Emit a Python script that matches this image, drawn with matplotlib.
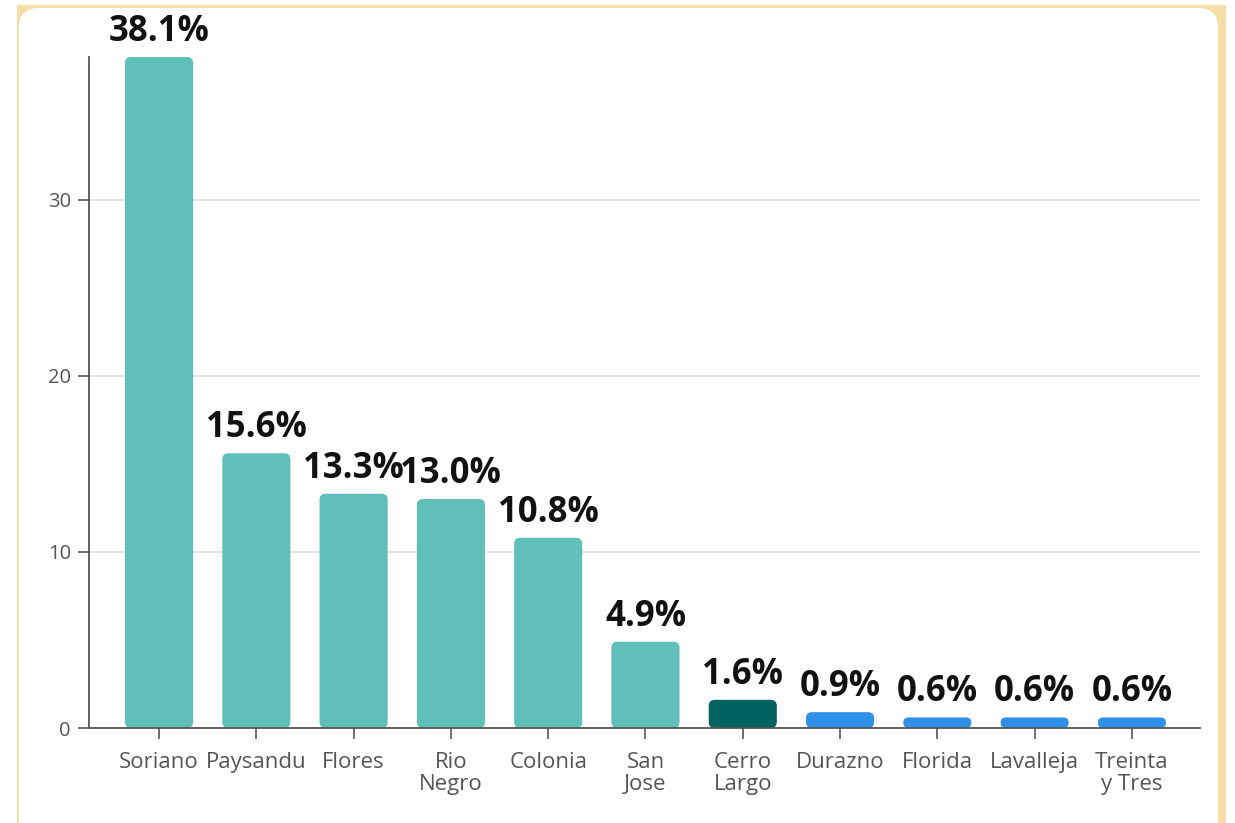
import matplotlib.pyplot as plt
from matplotlib.patches import FancyBboxPatch, Rectangle

departments = ["Soriano", "Paysandu", "Flores", "Rio\nNegro", "Colonia", "San\nJose",
               "Cerro\nLargo", "Durazno", "Florida", "Lavalleja", "Treinta\ny Tres"]
shares = [38.1, 15.6, 13.3, 13.0, 10.8, 4.9, 1.6, 0.9, 0.6, 0.6, 0.6]
bar_colors = ["#5fbfb9"] * 6 + ["#00635f"] + ["#2e90e8"] * 4
yticks = [0, 10, 20, 30]

W, H = 1235, 823


def main():
    plt.rcParams['font.family'] = ['Open Sans', 'DejaVu Sans']
    fig = plt.figure(figsize=(W / 100, H / 100), dpi=100)
    fig.patch.set_facecolor("white")

    # card frame
    fig.patches.append(Rectangle((17 / W, 0), (1226 - 17) / W, 1 - 5 / H,
                                 transform=fig.transFigure, facecolor="#f5dda8",
                                 edgecolor="none", zorder=-2))
    fig.patches.append(FancyBboxPatch((19 / W, -20 / H), (1218 - 19) / W, (H - 8 + 20) / H,
                                      boxstyle="round,pad=0,rounding_size=0.016",
                                      mutation_aspect=W / H,
                                      transform=fig.transFigure, facecolor="white",
                                      edgecolor="none", zorder=-1))

    ax = fig.add_axes([89 / W, 1 - 728 / H, (1200 - 89) / W, (728 - 57) / H])
    ax.set_facecolor("none")
    ax.set_zorder(1)

    x = range(len(departments))
    bars = ax.bar(x, shares, width=0.7, color=bar_colors)
    ax.set_xlim(-0.72, len(departments) - 0.3)
    ax.set_ylim(0, 38.1)

    # rounded bar corners
    px_x = (1200 - 89) / (len(departments) - 0.3 + 0.72)
    px_y = (728 - 57) / 38.1
    aspect = px_x / px_y
    for b in bars:
        b.set_visible(False)
        bx, by = b.get_x(), b.get_y()
        bw, bh = b.get_width(), b.get_height()
        r = min(6 / px_x, bh / aspect / 2, bw / 2)
        ax.add_patch(FancyBboxPatch((bx, by), bw, bh,
                                    boxstyle=f"round,pad=0,rounding_size={r}",
                                    mutation_aspect=aspect,
                                    facecolor=b.get_facecolor(), edgecolor="none",
                                    zorder=2))

    for i, v in enumerate(shares):
        ax.annotate(f"{v:.1f}%", (i, v), xytext=(0, 5), textcoords="offset points",
                    ha="center", va="bottom", fontsize=25, fontweight="bold",
                    color="#111111", annotation_clip=False)

    ax.set_yticks(yticks)
    ax.set_xticks(list(x))
    ax.set_xticklabels(departments, fontsize=16, color="#555555",
                       linespacing=1.1, multialignment="center")
    ax.tick_params(axis="y", labelsize=14.5, labelcolor="#555555", length=8,
                   color="#555555", width=1.2, pad=5)
    ax.tick_params(axis="x", length=8, color="#555555", width=1.2, pad=9)
    ax.grid(axis="y", color="#e6e6e6", linewidth=1.5, zorder=0)
    ax.set_axisbelow(True)

    for s in ["top", "right"]:
        ax.spines[s].set_visible(False)
    for s in ["left", "bottom"]:
        ax.spines[s].set_color("#555555")
        ax.spines[s].set_linewidth(1.3)

    fig.savefig("out.png", dpi=100)


if __name__ == '__main__':
    main()
